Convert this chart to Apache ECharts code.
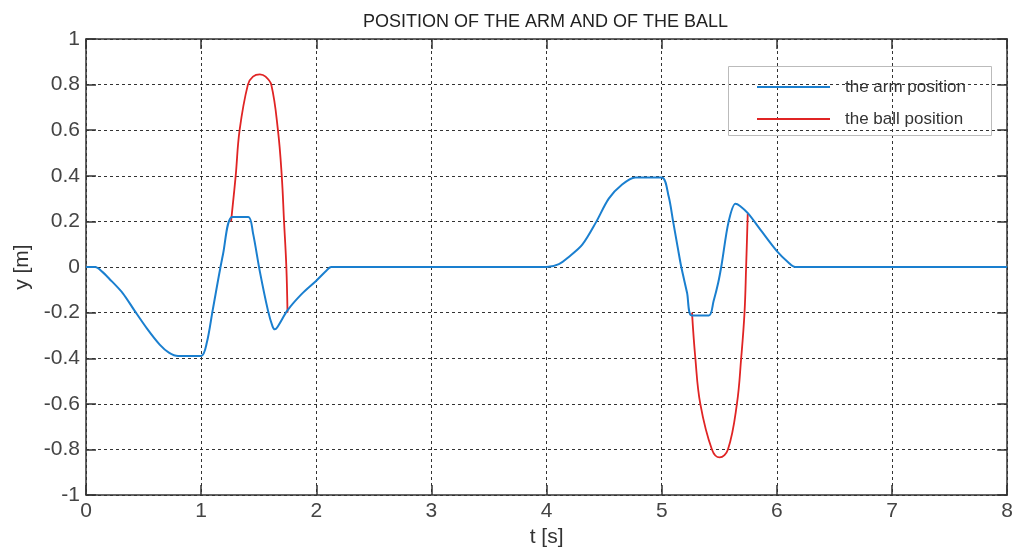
<!DOCTYPE html>
<html>
<head>
<meta charset="utf-8">
<script src="https://cdn.jsdelivr.net/npm/echarts@6/dist/echarts.min.js"></script>
<style>html,body{margin:0;padding:0;background:#fff}#c{width:1016px;height:553px}</style>
</head>
<body>
<div id="c"></div>
<script>
var titleText = 'POSITION OF THE ARM AND OF THE BALL';
var xName = 't [s]';
var yName = 'y [m]';
var seriesNames = ['the arm position', 'the ball position'];

var armPosition = [
  [0,0],[0.08,0],[0.14,-0.02],[0.2,-0.05],[0.32,-0.115],[0.42,-0.19],[0.53,-0.27],[0.64,-0.34],[0.72,-0.375],[0.8,-0.39],
  [1.0,-0.39],[1.05,-0.33],[1.10,-0.19],[1.19,0.056],[1.27,0.22],[1.41,0.22],[1.45,0.15],[1.51,-0.02],
  [1.58,-0.19],[1.62,-0.26],[1.64,-0.273],[1.66,-0.265],[1.75,-0.19],[1.87,-0.12],[2.0,-0.06],[2.08,-0.02],
  [2.13,0],[4.0,0],[4.107,0.013],[4.19,0.043],[4.31,0.098],[4.43,0.197],[4.54,0.30],[4.656,0.362],[4.77,0.393],[5.0,0.393],
  [5.06,0.31],[5.10,0.197],[5.14,0.083],[5.17,0],[5.22,-0.113],[5.26,-0.212],[5.41,-0.212],[5.45,-0.15],[5.49,-0.07],
  [5.52,0.01],[5.58,0.197],[5.64,0.278],[5.68,0.268],[5.75,0.235],[5.87,0.155],[6.0,0.07],[6.1,0.02],[6.16,0],[8,0]
];
var ballPosition1 = [
  [1.26,0.2],[1.30,0.4],[1.334,0.6],[1.406,0.8],[1.45,0.835],[1.51,0.845],[1.56,0.835],[1.609,0.8],
  [1.667,0.6],[1.70,0.4],[1.72,0.2],[1.74,0],[1.75,-0.2]
];
var ballPosition2 = [
  [5.263,-0.2],[5.292,-0.4],[5.335,-0.6],[5.436,-0.8],[5.503,-0.835],[5.575,-0.8],[5.653,-0.6],
  [5.69,-0.4],[5.719,-0.2],[5.733,0],[5.745,0.2],[5.747,0.235]
];

var blue = '#1a7fcf', red = '#e02424';
var font = 'Liberation Sans, Arial, sans-serif';
var gridLine = {show:true, lineStyle:{color:'#333', width:1, type:[3,3]}};
var axisLine = {show:true, onZero:false, lineStyle:{color:'#333', width:1.5}};
var tick = {show:true, inside:true, length:10, lineStyle:{color:'#333', width:1.5}};

var chart = echarts.init(document.getElementById('c'));
chart.setOption({
  animation:false,
  backgroundColor:'#fff',
  title:{text:titleText, left:358, top:8, textStyle:{fontFamily:font, fontSize:18, fontWeight:'normal', color:'#222'}},
  legend:{
    orient:'vertical', left:757, top:77, padding:0, itemWidth:73, itemHeight:2, itemGap:12, icon:'rect',
    data:seriesNames,
    textStyle:{fontFamily:font, fontSize:17, color:'#333', lineHeight:20, padding:[0,0,0,10]}
  },
  graphic:[{type:'rect', shape:{x:728.5, y:66.5, width:263, height:69}, style:{fill:'none', stroke:'#bbb', lineWidth:1}, z:10}],
  grid:{left:86, right:7, top:39, bottom:46},
  xAxis:[{
    type:'value', min:0, max:8, interval:1,
    name:xName, nameLocation:'middle', nameGap:28,
    nameTextStyle:{fontFamily:font, fontSize:21, color:'#333'},
    axisLine:axisLine, axisTick:tick, splitLine:gridLine,
    axisLabel:{fontFamily:font, fontSize:21, color:'#444', margin:6}
  },{
    type:'value', position:'top', min:0, max:8, interval:1,
    axisLine:axisLine, axisTick:tick, splitLine:{show:false}, axisLabel:{show:false}
  }],
  yAxis:[{
    type:'value', min:-1, max:1, interval:0.2,
    name:yName, nameLocation:'middle', nameGap:52,
    nameTextStyle:{fontFamily:font, fontSize:21, color:'#333'},
    axisLine:axisLine, axisTick:tick, splitLine:gridLine,
    axisLabel:{fontFamily:font, fontSize:21, color:'#444', margin:6}
  },{
    type:'value', position:'right', min:-1, max:1, interval:0.2,
    axisLine:axisLine, axisTick:tick, splitLine:{show:false}, axisLabel:{show:false}
  }],
  series:[
    {name:seriesNames[0], type:'line', data:armPosition, smooth:0.3, symbol:'none', z:3,
     lineStyle:{color:blue, width:2}, itemStyle:{color:blue}},
    {name:seriesNames[1], type:'line', data:ballPosition1, smooth:0.4, symbol:'none', z:2,
     lineStyle:{color:red, width:1.8}, itemStyle:{color:red}},
    {name:seriesNames[1], type:'line', data:ballPosition2, smooth:0.4, symbol:'none', z:2,
     lineStyle:{color:red, width:1.8}, itemStyle:{color:red}}
  ]
});
</script>
</body>
</html>
